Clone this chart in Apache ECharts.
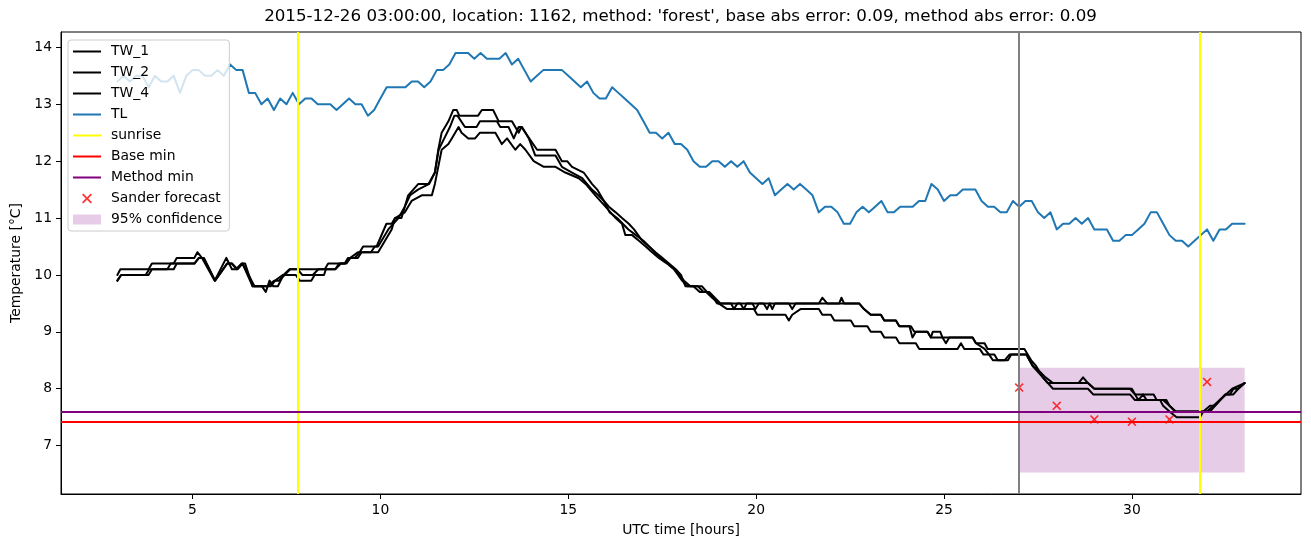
<!DOCTYPE html>
<html>
<head>
<meta charset="utf-8">
<script src="https://cdn.jsdelivr.net/npm/echarts@6/dist/echarts.min.js"></script>
<style>
html,body{margin:0;padding:0;background:#fff;}
#chart{width:1311px;height:547px;}
</style>
</head>
<body>
<div id="chart"></div>
<script>
// ---------------- DATA ----------------
const titleText = "2015-12-26 03:00:00, location: 1162, method: 'forest', base abs error: 0.09, method abs error: 0.09";
const xTicks = [5, 10, 15, 20, 25, 30];
const yTicks = [7, 8, 9, 10, 11, 12, 13, 14];

// TL: 10-minute samples starting at 3.0 h
const tlStartHour = 3;
const tlStepHour = 1 / 6;
const tlValues = [
  13.4,13.5,13.4,13.5,13.5,13.3,13.5,13.4,13.4,13.5,
  13.2,13.5,13.6,13.6,13.5,13.5,13.6,13.5,13.7,13.6,
  13.6,13.2,13.2,13.0,13.1,12.9,13.1,13.0,13.2,13.0,
  13.1,13.1,13.0,13.0,13.0,12.9,13.0,13.1,13.0,13.0,
  12.8,12.9,13.1,13.3,13.3,13.3,13.3,13.4,13.4,13.3,
  13.4,13.6,13.6,13.7,13.9,13.9,13.9,13.8,13.9,13.8,
  13.8,13.8,13.9,13.7,13.8,13.6,13.4,13.5,13.6,13.6,
  13.6,13.6,13.5,13.4,13.3,13.4,13.2,13.1,13.1,13.3,
  13.2,13.1,13.0,12.9,12.7,12.5,12.5,12.4,12.5,12.3,
  12.3,12.2,12.0,11.9,11.9,12.0,12.0,11.9,12.0,11.9,
  12.0,11.8,11.7,11.6,11.7,11.4,11.5,11.6,11.5,11.6,
  11.5,11.4,11.1,11.2,11.2,11.1,10.9,10.9,11.1,11.2,
  11.1,11.2,11.3,11.1,11.1,11.2,11.2,11.2,11.3,11.3,
  11.6,11.5,11.3,11.4,11.4,11.5,11.5,11.5,11.3,11.2,
  11.2,11.1,11.1,11.3,11.2,11.3,11.3,11.1,11.0,11.1,
  10.8,10.9,10.9,11.0,10.9,11.0,10.8,10.8,10.8,10.6,
  10.6,10.7,10.7,10.8,10.9,11.1,11.1,10.9,10.7,10.6,
  10.6,10.5,10.6,10.7,10.8,10.6,10.8,10.8,10.9,10.9,10.9
];

// TW_1 (vertices)
const tw1Hours = [3.0,3.08,3.83,3.92,4.5,4.58,5.05,5.13,5.25,5.59,5.9,6.05,6.16,6.3,6.4,6.6,6.85,6.95,7.05,7.15,7.27,7.42,7.58,8.52,8.61,9.05,9.14,9.32,9.45,9.54,9.9,10.16,10.3,10.39,10.56,10.74,11.01,11.28,11.45,11.54,11.63,11.81,11.94,12.03,12.1,12.6,12.7,13.0,13.15,13.5,13.68,13.75,13.86,14.17,14.66,14.83,14.97,15.1,15.41,15.63,15.77,15.95,16.08,16.26,16.43,16.61,16.75,16.97,17.15,17.32,17.5,17.68,17.86,18.0,18.12,18.56,18.69,18.87,18.96,20.87,20.96,21.05,21.67,21.76,21.89,22.21,22.27,22.34,22.74,22.87,23.05,23.32,23.41,23.72,23.81,24.12,24.21,24.56,24.65,24.7,24.9,24.96,25.76,25.85,26.08,26.16,27.14,27.32,27.45,27.63,27.76,28.58,28.7,28.83,29.0,29.95,30.08,30.58,30.66,30.92,31.0,31.15,31.9,32.08,32.21,32.35,32.48,32.61,32.7,32.83,33.0];
const tw1Values = [10.0,10.1,10.1,10.2,10.2,10.3,10.3,10.4,10.3,9.9,10.3,10.1,10.1,10.2,10.2,9.8,9.8,9.7,9.9,9.8,9.8,10.0,10.1,10.1,10.2,10.2,10.3,10.3,10.4,10.5,10.5,10.9,10.9,11.0,11.0,11.4,11.6,11.6,11.8,12.2,12.5,12.7,12.9,12.9,12.8,12.8,12.9,12.9,12.7,12.7,12.5,12.6,12.5,12.2,12.2,12.0,12.0,11.9,11.8,11.6,11.5,11.3,11.2,11.1,11.0,10.9,10.8,10.6,10.5,10.4,10.3,10.2,10.1,10.0,9.8,9.8,9.7,9.6,9.5,9.5,9.4,9.5,9.5,9.6,9.5,9.5,9.6,9.5,9.5,9.4,9.3,9.3,9.2,9.2,9.1,9.1,9.0,9.0,8.9,9.0,9.0,8.9,8.9,8.8,8.8,8.7,8.7,8.5,8.4,8.2,8.1,8.1,8.2,8.1,8.0,8.0,7.9,7.9,7.8,7.8,7.7,7.6,7.6,7.7,7.7,7.8,7.9,7.9,8.0,8.0,8.1];

// TW_2
const tw2Hours = [3.0,3.1,3.83,3.92,4.5,4.58,5.05,5.17,5.3,5.6,5.92,6.05,6.17,6.33,6.6,7.0,7.17,7.3,7.45,7.6,7.8,7.92,8.2,8.35,8.55,8.65,8.8,8.95,9.1,9.2,9.4,9.5,9.75,9.85,9.94,10.21,10.48,10.65,10.79,11.0,11.3,11.45,11.55,11.7,11.85,11.97,12.05,12.25,12.56,12.65,13.1,13.19,13.41,13.55,13.68,13.77,13.95,14.12,14.66,14.83,15.1,15.37,15.63,15.8,15.95,16.1,16.3,16.45,16.6,16.8,17.0,17.15,17.3,17.45,17.65,17.83,17.95,18.08,18.25,18.45,18.6,18.75,18.9,19.05,19.33,19.41,19.5,19.58,19.67,19.75,19.9,19.98,20.07,20.2,20.29,20.36,20.43,20.5,22.74,22.87,23.05,23.32,23.41,23.72,23.81,24.08,24.16,24.25,24.56,24.65,24.96,25.05,25.14,25.76,25.85,26.08,26.2,26.3,26.61,26.74,27.19,27.36,27.55,27.7,27.9,28.67,28.83,29.0,30.0,30.17,30.3,30.39,30.83,31.0,31.17,32.0,32.17,32.33,32.5,32.67,33.0];
const tw2Values = [9.9,10.0,10.0,10.1,10.1,10.2,10.2,10.3,10.3,9.9,10.2,10.2,10.1,10.2,9.8,9.8,9.9,9.9,10.0,10.1,10.1,10.0,10.0,10.1,10.1,10.1,10.1,10.2,10.2,10.3,10.3,10.4,10.4,10.5,10.5,10.8,11.0,11.2,11.4,11.5,11.6,11.8,12.2,12.4,12.6,12.8,12.8,12.6,12.6,12.7,12.7,12.6,12.6,12.4,12.6,12.6,12.4,12.1,12.1,11.9,11.8,11.7,11.5,11.4,11.3,11.1,11.0,10.9,10.8,10.7,10.6,10.5,10.4,10.3,10.2,10.1,10.0,9.9,9.8,9.8,9.7,9.7,9.6,9.5,9.5,9.4,9.5,9.5,9.4,9.5,9.5,9.4,9.5,9.5,9.4,9.5,9.4,9.5,9.5,9.4,9.3,9.3,9.2,9.2,9.1,9.1,8.9,9.0,9.0,8.9,8.9,8.8,8.9,8.9,8.8,8.7,8.6,8.5,8.5,8.6,8.6,8.4,8.3,8.2,8.1,8.1,8.1,8.0,8.0,7.8,7.9,7.8,7.8,7.7,7.6,7.6,7.7,7.8,7.9,8.0,8.1];

// TW_4
const tw4Hours = [3.0,3.1,3.75,3.85,4.33,4.42,5.05,5.17,5.3,5.6,5.92,6.05,6.2,6.33,6.65,7.08,7.2,7.4,7.75,7.85,8.16,8.25,8.5,8.55,8.8,8.9,9.05,9.2,9.4,9.94,10.3,10.39,10.65,10.83,11.1,11.37,11.45,11.63,11.81,11.9,12.08,12.16,12.34,12.52,12.65,13.06,13.23,13.37,13.59,13.72,13.86,14.08,14.35,14.66,14.92,15.28,15.46,15.72,15.99,16.26,16.43,16.52,16.7,16.88,17.06,17.23,17.41,17.63,17.81,18.03,18.17,18.33,18.5,18.67,18.83,19.0,19.23,19.94,20.03,20.78,20.87,20.96,21.18,21.67,21.76,21.99,22.08,22.52,22.61,22.96,23.05,23.32,23.41,23.72,23.81,24.25,24.34,25.36,25.45,25.54,25.95,26.05,26.34,26.43,26.7,26.79,27.19,27.36,27.63,27.9,28.83,28.97,29.95,30.08,30.75,30.83,31.0,31.19,31.81,31.9,32.08,32.21,32.35,32.5,32.7,32.83,33.0];
const tw4Values = [9.9,10.0,10.0,10.1,10.1,10.2,10.2,10.3,10.3,9.9,10.2,10.2,10.1,10.2,9.8,9.8,9.9,10.0,10.0,9.9,9.9,10.0,10.0,10.1,10.1,10.2,10.2,10.3,10.4,10.4,10.8,11.0,11.1,11.3,11.4,11.4,11.6,12.2,12.3,12.4,12.6,12.5,12.4,12.4,12.5,12.5,12.3,12.4,12.2,12.3,12.2,12.0,11.9,11.9,11.8,11.7,11.6,11.4,11.2,11.0,10.9,10.7,10.7,10.6,10.5,10.4,10.3,10.2,10.1,9.9,9.8,9.8,9.7,9.7,9.6,9.5,9.4,9.4,9.3,9.3,9.2,9.3,9.4,9.4,9.3,9.3,9.2,9.2,9.1,9.1,9.0,9.0,8.9,8.9,8.8,8.8,8.7,8.7,8.8,8.7,8.7,8.6,8.6,8.5,8.5,8.6,8.6,8.4,8.2,8.0,8.0,7.9,7.9,7.8,7.8,7.7,7.6,7.5,7.5,7.6,7.6,7.7,7.8,7.9,7.9,8.0,8.1];

// reference lines / forecast
const sunriseHours = [7.8, 31.8];
const forecastStartHour = 27;
const baseMin = 7.42;
const methodMin = 7.6;
const sanderHours = [27, 28, 29, 30, 31, 32];
const sanderValues = [8.02, 7.70, 7.46, 7.42, 7.46, 8.12];
const confHours = [27, 33];
const confLower = 6.53;
const confUpper = 8.37;

// ---------------- CHART ----------------
const FONT = 'DejaVu Sans';
const pairs = (xs, ys) => xs.map((x, i) => [x, ys[i]]);
const tlData = tlValues.map((v, i) => [tlStartHour + i * tlStepHour, v]);

const lineIcon = 'path://M0,0H28V2H0Z';
const crossIcon = 'path://M0,1L1,0L4,3L7,0L8,1L5,4L8,7L7,8L4,5L1,8L0,7L3,4Z';
const rectIcon = 'path://M0,0H28V10H0Z';

const chart = echarts.init(document.getElementById('chart'), null, {renderer: 'canvas'});

function blackLine(name, data) {
  return {
    name, type: 'line', data, z: 2,
    showSymbol: false, symbol: 'none',
    lineStyle: {color: '#000', width: 2, join: 'round', cap: 'round'},
    itemStyle: {color: '#000'},
    silent: true
  };
}

const option = {
  animation: false,
  backgroundColor: '#fff',
  title: {
    text: titleText,
    left: 680.5, top: 8, padding: 0,
    textAlign: 'center',
    textStyle: {fontFamily: FONT, fontSize: 16.7, fontWeight: 'normal', color: '#000'}
  },
  grid: {left: 61, right: 10, top: 32, bottom: 53, show: true, borderColor: '#000', borderWidth: 1, backgroundColor: 'transparent'},
  legend: {
    orient: 'vertical',
    left: 68, top: 40,
    padding: [1, 7, 1, 5],
    itemWidth: 28, itemHeight: 10, itemGap: 0,
    borderColor: '#cccccc', borderWidth: 1, borderRadius: 3,
    backgroundColor: 'rgba(255,255,255,0.8)',
    itemStyle: {borderWidth: 0},
    textStyle: {fontFamily: FONT, fontSize: 13.9, color: '#000', lineHeight: 21, padding: [0, 0, 0, 5]},
    selectedMode: false,
    data: [
      {name: 'TW_1', icon: lineIcon},
      {name: 'TW_2', icon: lineIcon},
      {name: 'TW_4', icon: lineIcon},
      {name: 'TL', icon: lineIcon},
      {name: 'sunrise', icon: lineIcon},
      {name: 'Base min', icon: lineIcon},
      {name: 'Method min', icon: lineIcon},
      {name: 'Sander forecast', icon: crossIcon},
      {name: '95% confidence', icon: rectIcon}
    ]
  },
  xAxis: {
    type: 'value', min: 1.5, max: 34.5,
    name: 'UTC time [hours]', nameLocation: 'middle', nameGap: 29,
    nameTextStyle: {fontFamily: FONT, fontSize: 13.9, color: '#000'},
    axisLine: {show: true, onZero: false, lineStyle: {color: '#000', width: 1}},
    axisTick: {show: true, inside: false, length: 5, customValues: xTicks, lineStyle: {color: '#000', width: 1}},
    axisLabel: {show: true, margin: 9, customValues: xTicks, fontFamily: FONT, fontSize: 13.9, color: '#000'},
    splitLine: {show: false}
  },
  yAxis: {
    type: 'value', min: 6.15, max: 14.27,
    name: 'Temperature [°C]', nameLocation: 'middle', nameGap: 34, nameRotate: 90,
    nameTextStyle: {fontFamily: FONT, fontSize: 13.9, color: '#000'},
    axisLine: {show: true, onZero: false, lineStyle: {color: '#000', width: 1}},
    axisTick: {show: true, inside: false, length: 5, customValues: yTicks, lineStyle: {color: '#000', width: 1}},
    axisLabel: {show: true, margin: 9, customValues: yTicks, fontFamily: FONT, fontSize: 13.9, color: '#000'},
    splitLine: {show: false}
  },
  series: [
    {
      name: '95% confidence', type: 'line', data: [], z: 1,
      itemStyle: {color: 'rgba(128,0,128,0.2)'},
      lineStyle: {color: 'rgba(128,0,128,0.2)'},
      markArea: {
        silent: true,
        itemStyle: {color: 'rgba(128,0,128,0.2)'},
        data: [[{xAxis: confHours[0], yAxis: confLower}, {xAxis: confHours[1], yAxis: confUpper}]]
      }
    },
    blackLine('TW_1', pairs(tw1Hours, tw1Values)),
    blackLine('TW_2', pairs(tw2Hours, tw2Values)),
    blackLine('TW_4', pairs(tw4Hours, tw4Values)),
    {
      name: 'TL', type: 'line', data: tlData, z: 2,
      showSymbol: false, symbol: 'none', silent: true,
      lineStyle: {color: '#1f77b4', width: 2, join: 'round', cap: 'round'},
      itemStyle: {color: '#1f77b4'}
    },
    {
      name: 'sunrise', type: 'line', data: [], z: 3,
      itemStyle: {color: '#ffff00'}, lineStyle: {color: '#ffff00'},
      markLine: {
        silent: true, symbol: 'none', label: {show: false}, animation: false,
        lineStyle: {color: '#ffff00', width: 2, type: 'solid'},
        data: sunriseHours.map(h => ({xAxis: h}))
      }
    },
    {
      name: 'forecast time', type: 'line', data: [], z: 3,
      markLine: {
        silent: true, symbol: 'none', label: {show: false}, animation: false,
        lineStyle: {color: '#808080', width: 2, type: 'solid'},
        data: [{xAxis: forecastStartHour}]
      }
    },
    {
      name: 'Base min', type: 'line', data: [], z: 3,
      itemStyle: {color: '#ff0000'}, lineStyle: {color: '#ff0000'},
      markLine: {
        silent: true, symbol: 'none', label: {show: false}, animation: false,
        lineStyle: {color: '#ff0000', width: 2, type: 'solid'},
        data: [{yAxis: baseMin}]
      }
    },
    {
      name: 'Method min', type: 'line', data: [], z: 3,
      itemStyle: {color: '#800080'}, lineStyle: {color: '#800080'},
      markLine: {
        silent: true, symbol: 'none', label: {show: false}, animation: false,
        lineStyle: {color: '#800080', width: 2, type: 'solid'},
        data: [{yAxis: methodMin}]
      }
    },
    {
      name: 'Sander forecast', type: 'scatter', z: 4, silent: true,
      data: pairs(sanderHours, sanderValues),
      symbol: crossIcon, symbolSize: 9,
      itemStyle: {color: '#ff0000', borderWidth: 0}
    }
  ]
};
chart.setOption(option);
</script>
</body>
</html>
